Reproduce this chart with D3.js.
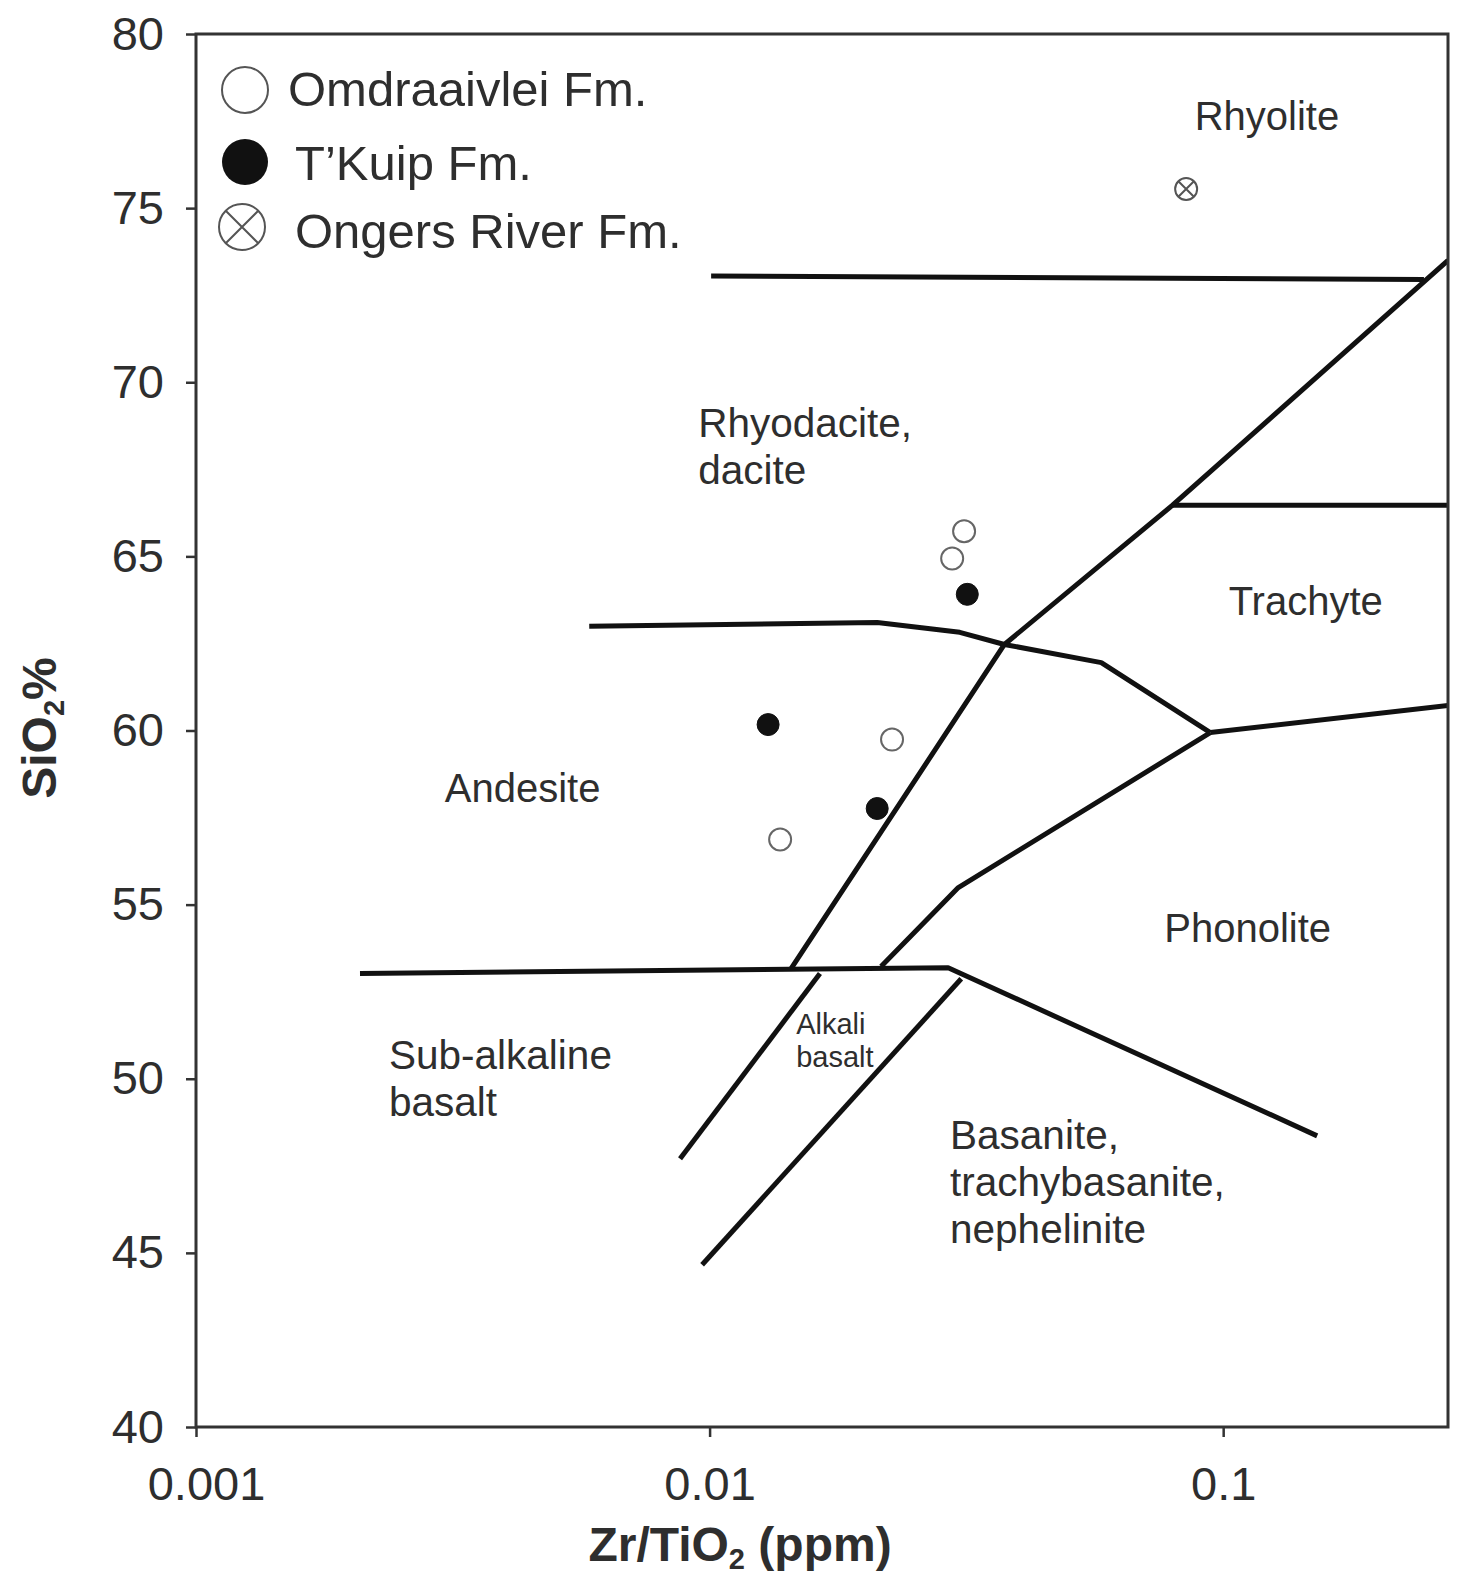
<!DOCTYPE html>
<html>
<head>
<meta charset="utf-8">
<script src="https://cdn.jsdelivr.net/npm/d3@7"></script>
<style>
  html, body { margin: 0; padding: 0; background: #fff; }
  svg { display: block; font-family: "Liberation Sans", Arial, Helvetica, sans-serif; }
</style>
</head>
<body>
<svg id="chart" width="1461" height="1585"></svg>
<script>
// ---------- data ----------
const xDomain = [0.001, 0.274];
const yDomain = [40, 80];
const xTicks = [0.001, 0.01, 0.1];
const xTickLabels = ["0.001", "0.01", "0.1"];
const yTicks = [40, 45, 50, 55, 60, 65, 70, 75, 80];

// field boundary lines [Zr/TiO2, SiO2]
const rhyoliteLine   = [[0.01007, 73.05], [0.246, 72.95]];
const mainDiagonal   = [[0.01441, 53.16], [0.0375, 62.47], [0.0797, 66.47], [0.274, 73.5]];
const trachyteTop    = [[0.0797, 66.47], [0.274, 66.47]];
const andesiteTop    = [[0.00583, 62.99], [0.0212, 63.1], [0.0307, 62.82], [0.0375, 62.47], [0.0579, 61.95], [0.0944, 59.94]];
const trachyteBottom = [[0.0944, 59.94], [0.274, 60.72]];
const phonoliteLeft  = [[0.02157, 53.22], [0.0305, 55.49], [0.0944, 59.94]];
const basaltTop      = [[0.002086, 53.02], [0.02914, 53.19], [0.1524, 48.36]];
const alkaliLeft     = [[0.0164, 53.02], [0.00876, 47.7]];
const alkaliRight    = [[0.0309, 52.87], [0.00967, 44.66]];
const boundaries = [rhyoliteLine, mainDiagonal, trachyteTop, andesiteTop, trachyteBottom,
                    phonoliteLeft, basaltTop, alkaliLeft, alkaliRight];

// samples
const omdraaivlei = [[0.0313, 65.72], [0.02967, 64.94], [0.02266, 59.74], [0.01372, 56.87]];
const tkuip       = [[0.03175, 63.91], [0.0130, 60.17], [0.0212, 57.76]];
const ongers      = [[0.0847, 75.55]];

// field labels: [x, y, lines, size]
const fieldNames = [
  [0.0880, 77.25, ["Rhyolite"], 40],
  [0.0095, 68.42, ["Rhyodacite,", "dacite"], 40.5],
  [0.1025, 63.33, ["Trachyte"], 40],
  [0.00305, 57.96, ["Andesite"], 40],
  [0.0768, 53.94, ["Phonolite"], 40],
  [0.002376, 50.29, ["Sub-alkaline", "basalt"], 40.5],
  [0.01474, 51.29, ["Alkali", "basalt"], 29],
  [0.02939, 47.99, ["Basanite,", "trachybasanite,", "nephelinite"], 40.5]
];

const legendItems = ["Omdraaivlei Fm.", "T\u2019Kuip Fm.", "Ongers River Fm."];

// ---------- layout ----------
const L = 196, R = 1448, T = 34, B = 1427;
const svg = d3.select("#chart");
const x = d3.scaleLog().domain(xDomain).range([L, R]);
const y = d3.scaleLinear().domain(yDomain).range([B, T]);
const textColor = "#2e2e2e";

svg.append("defs").append("clipPath").attr("id", "plotclip")
  .append("rect").attr("x", L).attr("y", T).attr("width", R - L).attr("height", B - T);

// boundary lines
const line = d3.line().x(d => x(d[0])).y(d => y(d[1]));
svg.append("g").attr("clip-path", "url(#plotclip)")
  .selectAll("path").data(boundaries).join("path")
  .attr("d", line).attr("fill", "none").attr("stroke", "#111")
  .attr("stroke-width", 5).attr("stroke-linejoin", "round").attr("stroke-linecap", "butt");

// field labels
const fl = svg.append("g").attr("fill", textColor);
fieldNames.forEach(f => {
  const t = fl.append("text").attr("x", x(f[0])).attr("y", y(f[1]))
    .attr("font-size", f[3]);
  f[2].forEach((s, i) => {
    t.append("tspan").attr("x", x(f[0])).attr("dy", i === 0 ? 0 : f[3] * 1.16).text(s);
  });
});

// frame
svg.append("rect").attr("x", L).attr("y", T).attr("width", R - L).attr("height", B - T)
  .attr("fill", "none").attr("stroke", "#333").attr("stroke-width", 3);

// axes
const xAxis = svg.append("g").attr("transform", `translate(0,${B})`)
  .call(d3.axisBottom(x).tickValues(xTicks).tickFormat((d, i) => xTickLabels[i]).tickSize(10).tickPadding(30));
const yAxis = svg.append("g").attr("transform", `translate(${L},0)`)
  .call(d3.axisLeft(y).tickValues(yTicks).tickSize(10).tickPadding(22));
[xAxis, yAxis].forEach(a => {
  a.select(".domain").remove();
  a.selectAll(".tick line").attr("stroke", "#333").attr("stroke-width", 2.5);
  a.selectAll(".tick text").attr("font-size", 47).attr("fill", textColor)
    .attr("font-family", "'Liberation Sans', Arial, sans-serif");
});
// first x label sits a little to the right of its tick, as in the original
xAxis.selectAll(".tick text").filter((d, i) => i === 0).attr("dx", 10);

// axis titles
const xt = svg.append("text").attr("x", 740).attr("y", 1561).attr("text-anchor", "middle")
  .attr("font-size", 48).attr("font-weight", "bold").attr("fill", textColor);
xt.append("tspan").text("Zr/TiO");
xt.append("tspan").attr("font-size", 29).attr("dy", 8).text("2");
xt.append("tspan").attr("dy", -8).text(" (ppm)");

const yt = svg.append("text").attr("transform", "translate(56,728) rotate(-90)")
  .attr("text-anchor", "middle").attr("font-size", 48).attr("font-weight", "bold").attr("fill", textColor);
yt.append("tspan").text("SiO");
yt.append("tspan").attr("font-size", 29).attr("dy", 8).text("2");
yt.append("tspan").attr("dy", -8).text("%");

// samples
const pts = svg.append("g");
pts.selectAll("circle.om").data(omdraaivlei).join("circle").attr("class", "om")
  .attr("cx", d => x(d[0])).attr("cy", d => y(d[1])).attr("r", 11)
  .attr("fill", "#fff").attr("stroke", "#666").attr("stroke-width", 2);
pts.selectAll("circle.tk").data(tkuip).join("circle").attr("class", "tk")
  .attr("cx", d => x(d[0])).attr("cy", d => y(d[1])).attr("r", 11)
  .attr("fill", "#111").attr("stroke", "#111").attr("stroke-width", 1);
function crossCircle(g, cx, cy, r, sw) {
  g.append("circle").attr("cx", cx).attr("cy", cy).attr("r", r)
    .attr("fill", "#fff").attr("stroke", "#555").attr("stroke-width", sw);
  const k = r * Math.SQRT1_2;
  g.append("path").attr("d", `M${cx - k},${cy - k}L${cx + k},${cy + k}M${cx - k},${cy + k}L${cx + k},${cy - k}`)
    .attr("stroke", "#555").attr("stroke-width", sw).attr("fill", "none");
}
ongers.forEach(d => crossCircle(pts, x(d[0]), y(d[1]), 11, 2));

// legend
const lg = svg.append("g");
lg.append("circle").attr("cx", 245).attr("cy", 90).attr("r", 23)
  .attr("fill", "#fff").attr("stroke", "#555").attr("stroke-width", 2);
lg.append("circle").attr("cx", 245).attr("cy", 162).attr("r", 23).attr("fill", "#111");
crossCircle(lg, 242, 227, 23, 2);
const legY = [106, 180, 248];
const legX = [288, 295, 295];
legendItems.forEach((s, i) => {
  lg.append("text").attr("x", legX[i]).attr("y", legY[i]).attr("font-size", 49)
    .attr("fill", textColor).text(s);
});
</script>
</body>
</html>
